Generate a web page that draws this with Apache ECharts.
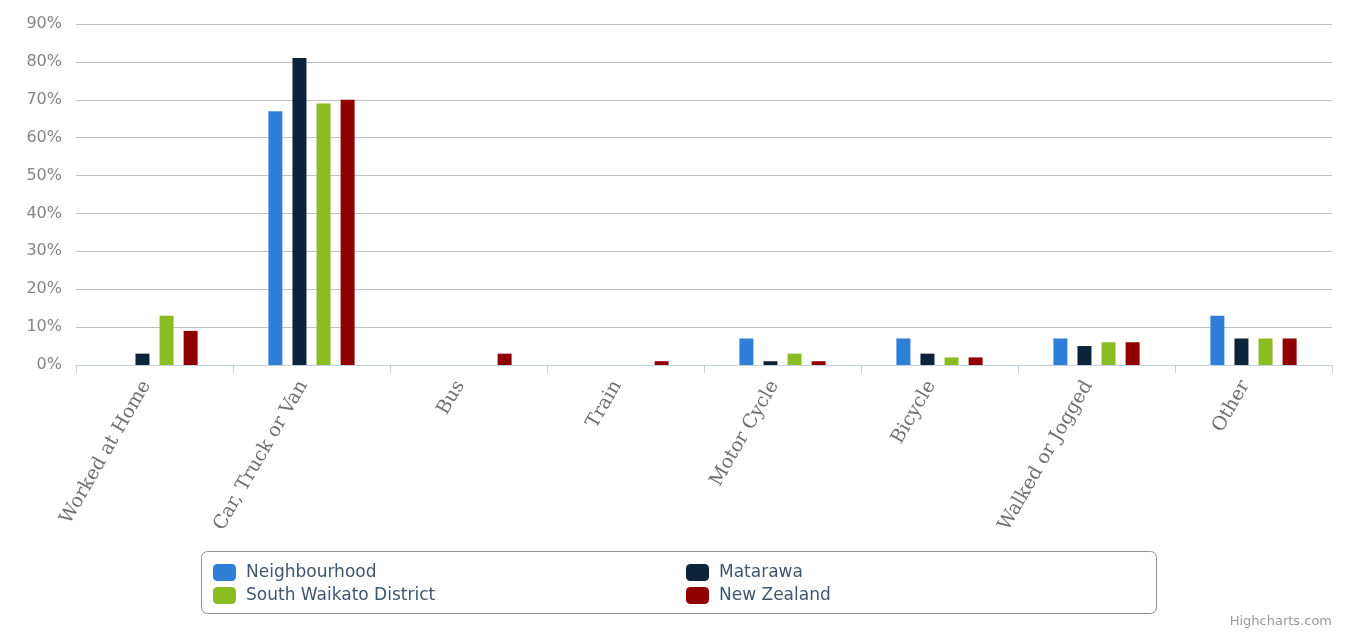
<!DOCTYPE html>
<html>
<head>
<meta charset="utf-8">
<script src="https://cdn.jsdelivr.net/npm/echarts@6/dist/echarts.min.js"></script>
<style>
  html, body { margin: 0; padding: 0; background: #fff; }
  #chart { width: 1346px; height: 633px; }
</style>
</head>
<body>
<div id="chart"></div>
<script>
  // travel to work categories
  var categories = ['Worked at Home', 'Car, Truck or Van', 'Bus', 'Train', 'Motor Cycle', 'Bicycle', 'Walked or Jogged', 'Other']

  // percentages per area
  var neighbourhood = [0, 67, 0, 0, 7, 7, 7, 13]
  var matarawa = [3, 81, 0, 0, 1, 3, 5, 7]
  var southWaikato = [13, 69, 0, 0, 3, 2, 6, 7]
  var newZealand = [9, 70, 3, 1, 1, 2, 6, 7]

  var seriesNames = ['Neighbourhood', 'Matarawa', 'South Waikato District', 'New Zealand']
  var colors = ['#2F7ED8', '#0D233A', '#8BBC21', '#910000']

  var chart = echarts.init(document.getElementById('chart'))

  function bar(name, data) {
    return {
      name: name,
      type: 'bar',
      data: data,
      barWidth: 14,
      barGap: '72%',
      emphasis: { disabled: true }
    }
  }

  var legendText = { color: '#3E576F', fontSize: 17, lineHeight: 17, fontFamily: 'DejaVu Sans', padding: [0, 0, 0, 5] }

  function legendCol(names, left) {
    return {
      data: names,
      orient: 'vertical',
      left: left,
      top: 559,
      itemWidth: 23,
      itemHeight: 17,
      itemGap: 6,
      icon: 'roundRect',
      textStyle: legendText
    }
  }

  chart.setOption({
    animation: false,
    color: colors,
    grid: { left: 76, right: 14, top: 24, bottom: 268 },
    title: {
      text: 'Highcharts.com',
      right: 9,
      bottom: 0,
      textStyle: { color: '#999', fontSize: 13, fontWeight: 'normal', fontFamily: 'DejaVu Sans' }
    },
    legend: [
      legendCol([seriesNames[0], seriesNames[2]], 208),
      legendCol([seriesNames[1], seriesNames[3]], 681)
    ],
    graphic: [
      {
        type: 'rect',
        shape: { x: 201.5, y: 551.5, width: 955, height: 62, r: 6 },
        style: { fill: 'none', stroke: '#909090', lineWidth: 1 },
        silent: true
      }
    ],
    xAxis: {
      type: 'category',
      data: categories,
      axisLine: { lineStyle: { color: '#C0D0E0' } },
      axisTick: { show: true, length: 8, lineStyle: { color: '#C0D0E0' } },
      axisLabel: {
        rotate: 60,
        margin: 22,
        verticalAlign: 'bottom',
        color: '#707070',
        fontSize: 19,
        fontFamily: 'DejaVu Serif'
      }
    },
    yAxis: {
      type: 'value',
      min: 0,
      max: 90,
      interval: 10,
      axisLine: { show: false },
      axisTick: { show: false },
      axisLabel: {
        formatter: '{value}%',
        color: '#858585',
        fontSize: 16,
        fontFamily: 'DejaVu Sans',
        margin: 14
      },
      splitLine: { lineStyle: { color: '#C0C0C0' } }
    },
    series: [
      bar(seriesNames[0], neighbourhood),
      bar(seriesNames[1], matarawa),
      bar(seriesNames[2], southWaikato),
      bar(seriesNames[3], newZealand)
    ]
  })
</script>
</body>
</html>
